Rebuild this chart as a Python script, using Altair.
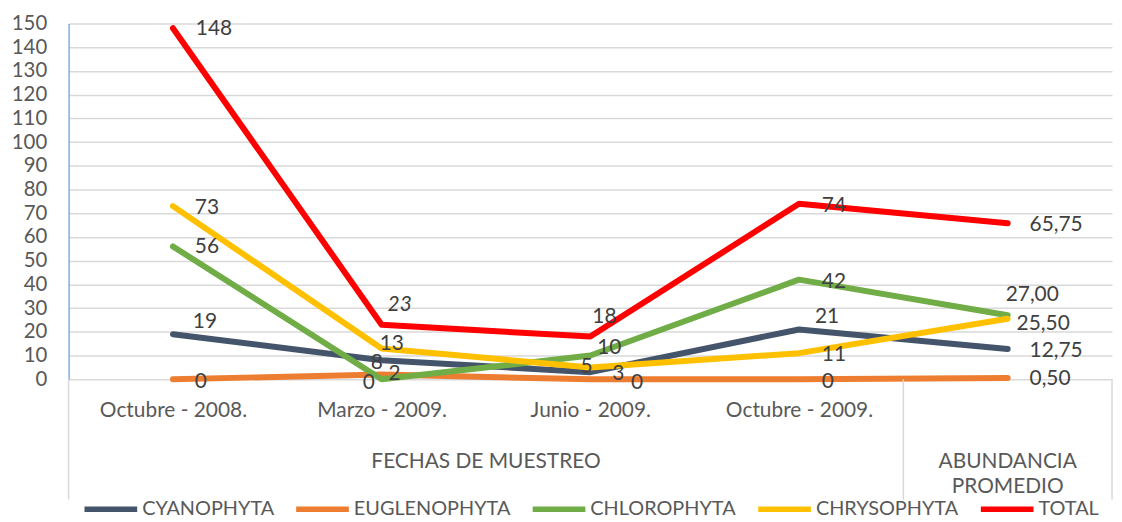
import json
import altair as alt
import pandas as pd

# ---------------- data ----------------
inner_labels = ["Octubre - 2008.", "Marzo - 2009.", "Junio - 2009.", "Octubre - 2009.", ""]
group_names = ["FECHAS DE MUESTREO", "ABUNDANCIA\nPROMEDIO"]
group_start = [0, 4]
group_end = [4, 5]

series_names = ["CYANOPHYTA", "EUGLENOPHYTA", "CHLOROPHYTA", "CHRYSOPHYTA", "TOTAL"]
cyanophyta = [19, 8, 3, 21, 12.75]
euglenophyta = [0, 2, 0, 0, 0.50]
chlorophyta = [56, 0, 10, 42, 27.00]
chrysophyta = [73, 13, 5, 11, 25.50]
total = [148, 23, 18, 74, 65.75]
y_ticks = list(range(0, 151, 10))

# ---------------- styling ----------------
colors = ["#44546A", "#ED7D31", "#70AD47", "#FFC000", "#FF0000"]
# label nudges in px relative to each point (dx, dy)
nudges = {
    "CYANOPHYTA": [(20, -12), (-11, 3), (22, 2), (16, -13), (22, 2)],
    "EUGLENOPHYTA": [(22, 3), (7, 0), (41, 4), (23, 3), (22, 1)],
    "CHLOROPHYTA": [(22, 1), (-19, 4), (7, -8), (23, 2), (-2, -20)],
    "CHRYSOPHYTA": [(22, 2), (-2, -4), (-10, 0), (23, 2), (9, 5)],
    "TOTAL": [(23, 1), (6, -20), (2, -20), (23, 2), (22, 2)],
}
italic_points = [("TOTAL", 1)]

W, H = 1050, 358
FONT = "Lato"
TXT = "#595959"

values = [cyanophyta, euglenophyta, chlorophyta, chrysophyta, total]
rows = []
for s, vals in zip(series_names, values):
    for i, v in enumerate(vals):
        lab = f"{v:.2f}".replace(".", ",") if i == 4 else f"{int(v)}"
        dx, dy = nudges[s][i]
        rows.append(dict(series=s, order=i, pos=i + 0.5, value=v, label=lab,
                         dx=dx, dy=dy, italic=(s, i) in italic_points))
df = pd.DataFrame(rows)

xscale = alt.Scale(domain=[0, 5], nice=False, zero=False)
yscale = alt.Scale(domain=[0, 150], nice=False, zero=True)

label_expr = json.dumps(inner_labels) + "[floor(datum.value)]"

x_axis = alt.Axis(values=[i + 0.5 for i in range(5)], labelExpr=label_expr,
                  grid=False, ticks=False, tickSize=0, domain=False, title=None,
                  labelFont=FONT, labelFontSize=21, labelColor=TXT,
                  labelPadding=20, labelFlush=False, labelOverlap=False)
y_axis = alt.Axis(values=y_ticks, grid=True, gridColor="#D9D9D9", gridWidth=1.5,
                  ticks=False, tickSize=0, domain=True, domainColor="#7FAEE0",
                  domainWidth=1.5, title=None, labelFont=FONT, labelFontSize=20.5,
                  labelColor=TXT, labelPadding=22, labelOverlap=False,
                  labelFlush=False, labelBound=False)

base = alt.Chart(df)

lines = base.mark_line(strokeWidth=6, strokeCap="round", strokeJoin="round").encode(
    x=alt.X("pos:Q", scale=xscale, axis=x_axis),
    y=alt.Y("value:Q", scale=yscale, axis=y_axis),
    color=alt.Color("series:N", scale=alt.Scale(domain=series_names, range=colors),
                    legend=alt.Legend(orient="none", legendX=13, legendY=459,
                                      direction="horizontal", title=None,
                                      symbolType="stroke", symbolSize=2809,
                                      symbolStrokeWidth=5.5, labelFont=FONT,
                                      labelFontSize=20, labelColor=TXT,
                                      labelOffset=2, columnPadding=11, padding=0)),
    order="order:Q",
)

lab_x = "datum.pos + datum.dx / %f" % (W / 5)
lab_y = "datum.value - datum.dy / %f" % (H / 150)

labels = base.transform_filter("!datum.italic").transform_calculate(
    lx=lab_x, ly=lab_y
).mark_text(align="left", baseline="middle", font=FONT, fontSize=21, color="#404040").encode(
    x=alt.X("lx:Q", scale=xscale, axis=x_axis), y=alt.Y("ly:Q", scale=yscale, axis=y_axis),
    text="label:N")

labels_it = base.transform_filter("datum.italic").transform_calculate(
    lx=lab_x, ly=lab_y
).mark_text(align="left", baseline="middle", font=FONT, fontSize=21, color="#404040",
            fontStyle="italic").encode(
    x=alt.X("lx:Q", scale=xscale, axis=x_axis), y=alt.Y("ly:Q", scale=yscale, axis=y_axis),
    text="label:N")

sep_df = pd.DataFrame({"b": sorted(set(group_start + group_end))})
seps = alt.Chart(sep_df).mark_rule(color="#D9D9D9", strokeWidth=1.5).encode(
    x=alt.X("b:Q", scale=xscale, axis=x_axis), y=alt.value(H), y2=alt.value(H + 121))

grp_df = pd.DataFrame({"name": group_names,
                       "mid": [(a + b) / 2 for a, b in zip(group_start, group_end)]})
groups = alt.Chart(grp_df).mark_text(align="center", baseline="top", font=FONT,
                                     fontSize=21, color=TXT, lineBreak="\n",
                                     lineHeight=25).encode(
    x=alt.X("mid:Q", scale=xscale, axis=x_axis), y=alt.value(430), text="name:N")

chart = alt.layer(lines, seps, labels, labels_it, groups).properties(
    width=W, height=H,
    autosize=alt.AutoSizeParams(type="none"),
    padding={"left": 61, "top": 14, "right": 2, "bottom": 140},
).configure_view(stroke=None)

chart.save("out.html", embed_options={"renderer": "svg", "actions": False})
